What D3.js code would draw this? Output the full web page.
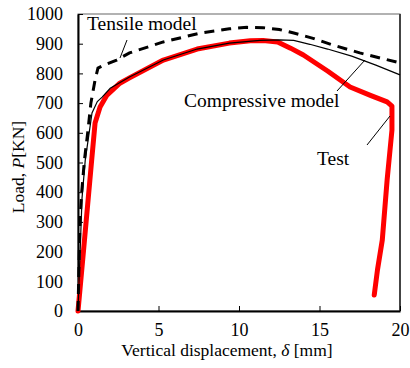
<!DOCTYPE html>
<html>
<head>
<meta charset="utf-8">
<script src="https://cdn.jsdelivr.net/npm/d3@7"></script>
<style>
  body { margin: 0; background: #fff; }
  svg text { font-family: "Liberation Serif", "Tinos", "Times New Roman", "DejaVu Serif", serif; fill: #000; }
</style>
</head>
<body>
<div id="chart-area"></div>
<script>
// Tick values
const xTicks = [0, 5, 10, 15, 20];
const yTicks = [0, 100, 200, 300, 400, 500, 600, 700, 800, 900, 1000];

// Tensile model (dashed)
const tensileDisp = [0, 0.12, 0.23, 0.4, 0.62, 0.8, 1.06, 1.24, 1.7, 2.4, 3.2, 5.3, 7.6, 9.4, 10.5, 11.5, 12.5, 13.4, 14.6, 15.8, 17.5, 19.8, 20];
const tensileLoad = [0, 300, 400, 508, 609, 700, 778, 818, 830, 845, 869, 906, 936, 950, 955, 954, 948, 936, 918, 896, 869, 838, 835];

// Compressive model (thin solid)
const compDisp = [0, 0.25, 0.45, 0.87, 1.2, 1.5, 2.0, 3.2, 5.3, 7.4, 9.4, 11.3, 12.5, 13.4, 14.4, 15.5, 17.0, 18.5, 20];
const compLoad = [0, 380, 508, 667, 705, 720, 750, 788, 845, 882, 902, 911, 913, 911, 898, 882, 858, 828, 795];

// Test (thick red)
const testDisp = [0, 0.29, 0.85, 1.06, 1.37, 1.8, 2.6, 3.2, 5.3, 7.4, 9.4, 10.7, 11.5, 12.4, 13.2, 14.0, 15.5, 16.9, 18.2, 19.2, 19.5, 19.5, 19.2, 18.9, 18.6, 18.4];
const testLoad = [0, 172, 508, 633, 687, 727, 767, 785, 845, 882, 902, 910, 911, 906, 885, 862, 808, 754, 725, 704, 690, 609, 441, 239, 138, 54];

const WIDTH = 410, HEIGHT = 368;
const MARGIN = {LEFT: 78, RIGHT: 10, TOP: 14, BOTTOM: 57};
const wGraph = WIDTH - MARGIN.LEFT - MARGIN.RIGHT;
const hGraph = HEIGHT - MARGIN.TOP - MARGIN.BOTTOM;
const SERIF = '"Liberation Serif", "Tinos", "Times New Roman", "DejaVu Serif", serif';

const svg = d3.select('#chart-area').append('svg')
    .attr('width', WIDTH)
    .attr('height', HEIGHT)
    .attr('font-family', SERIF);

const group = svg.append('g')
    .attr('transform', `translate(${MARGIN.LEFT}, ${MARGIN.TOP})`);

const xScale = d3.scaleLinear().domain([0, 20]).range([0, wGraph]);
const yScale = d3.scaleLinear().domain([0, 1000]).range([hGraph, 0]);

// Plot frame (top/right thin grey)
group.append('rect')
    .attr('x', 0).attr('y', 0)
    .attr('width', wGraph).attr('height', hGraph)
    .attr('fill', 'none')
    .attr('stroke', '#666')
    .attr('stroke-width', 1);
group.append('line')
    .attr('x1', wGraph).attr('x2', wGraph)
    .attr('y1', 0).attr('y2', hGraph)
    .attr('stroke', '#444').attr('stroke-width', 2);

// Axes, ticks pointing inward
const xAxis = group.append('g')
    .attr('transform', `translate(0,${hGraph})`)
    .call(d3.axisBottom(xScale).tickValues(xTicks).tickFormat(d3.format('d'))
        .tickSizeInner(-5).tickSizeOuter(0).tickPadding(12));
const yAxis = group.append('g')
    .call(d3.axisLeft(yScale).tickValues(yTicks).tickFormat(d3.format('d'))
        .tickSizeInner(-5).tickSizeOuter(0).tickPadding(15));

[xAxis, yAxis].forEach(ax => {
    ax.attr('font-family', SERIF).attr('font-size', 18);
    ax.select('.domain').attr('stroke', '#000').attr('stroke-width', 2);
    ax.selectAll('.tick line').attr('stroke', '#000').attr('stroke-width', 1);
    ax.selectAll('.tick text').attr('fill', '#000');
});

const line = d3.line()
    .x(d => xScale(d[0]))
    .y(d => yScale(d[1]));

const zip = (a, b) => a.map((v, i) => [v, b[i]]);

// Test curve
group.append('path')
    .datum(zip(testDisp, testLoad))
    .attr('d', line)
    .attr('fill', 'none')
    .attr('stroke', '#ff0000')
    .attr('stroke-width', 5)
    .attr('stroke-linejoin', 'round')
    .attr('stroke-linecap', 'round');

// Compressive model
group.append('path')
    .datum(zip(compDisp, compLoad))
    .attr('d', line)
    .attr('fill', 'none')
    .attr('stroke', '#000')
    .attr('stroke-width', 1.2);

// Tensile model
group.append('path')
    .datum(zip(tensileDisp, tensileLoad))
    .attr('d', line)
    .attr('fill', 'none')
    .attr('stroke', '#000')
    .attr('stroke-width', 3)
    .attr('stroke-dasharray', '10,7');

// Annotations with leader lines
const notes = [
    {text: 'Tensile model', x: 87, y: 30, lx1: 127, ly1: 40, lx2: 120, ly2: 58},
    {text: 'Compressive model', x: 184, y: 107, lx1: 365, ly1: 60, lx2: 337, ly2: 91},
    {text: 'Test', x: 317, y: 165, lx1: 367, ly1: 145, lx2: 390, ly2: 116}
];
notes.forEach(n => {
    svg.append('line')
        .attr('x1', n.lx1).attr('y1', n.ly1)
        .attr('x2', n.lx2).attr('y2', n.ly2)
        .attr('stroke', '#000').attr('stroke-width', 1);
    svg.append('text')
        .attr('x', n.x).attr('y', n.y)
        .attr('font-size', 19.5)
        .text(n.text);
});

// Axis titles
const xLabel = svg.append('text')
    .attr('x', 227).attr('y', 356)
    .attr('text-anchor', 'middle')
    .attr('font-size', 17.5);
xLabel.append('tspan').text('Vertical displacement, ');
xLabel.append('tspan').attr('font-style', 'italic').text('δ');
xLabel.append('tspan').text(' [mm]');

const yLabel = svg.append('text')
    .attr('transform', 'translate(24,167) rotate(-90)')
    .attr('text-anchor', 'middle')
    .attr('font-size', 17.5);
yLabel.append('tspan').text('Load, ');
yLabel.append('tspan').attr('font-style', 'italic').text('P');
yLabel.append('tspan').text('[KN]');
</script>
</body>
</html>
